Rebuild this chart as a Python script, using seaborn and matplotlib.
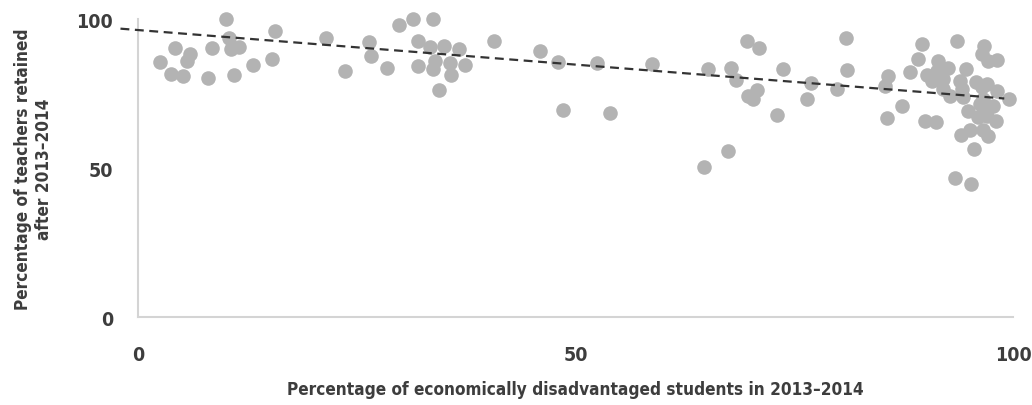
import os

import matplotlib
matplotlib.use("Agg")
import matplotlib.font_manager as fm
import matplotlib.pyplot as plt
import numpy as np
import pandas as pd
import seaborn as sns

# share of economically disadvantaged students (%) per school
disadvantaged = [
    2.5, 3.8, 4.2, 5.1, 5.6, 5.9, 8.0, 8.5, 10.1, 10.4, 10.6, 11.0, 11.5, 13.1, 15.3, 15.7,
    21.5, 23.7, 26.4, 26.6, 28.5, 29.8, 31.4, 32.0, 32.0, 33.4, 33.7, 33.9, 33.7, 35.0,
    35.7, 35.8, 34.4, 36.7, 37.4, 40.7, 45.9, 48.0, 48.6, 52.5, 54.0, 58.7,
    64.7, 67.4, 65.1, 67.8, 68.3, 69.6, 71.0, 69.7, 70.7, 70.3, 73.0, 73.7, 76.5, 76.9,
    79.9, 80.9, 81.0, 85.6, 87.3, 85.7, 85.4, 88.2, 89.1, 89.6, 89.9, 91.2, 90.2, 90.7,
    91.4, 91.3, 92.0, 92.6, 92.0, 92.8, 93.6, 94.6, 93.9, 94.2, 94.3, 95.8, 96.5, 97.0,
    98.2, 99.5, 96.7, 96.5, 97.1, 98.2, 94.9, 96.0, 96.8, 97.7, 98.1, 95.1, 94.1, 96.6,
    97.1, 95.5, 93.4, 95.2, 96.6, 97.0, 96.2,
]
# share of teachers retained (%) per school
retained = [
    85.6, 81.5, 90.3, 80.9, 85.9, 88.3, 80.2, 90.3, 100.0, 93.6, 89.9, 81.2, 90.6, 84.6, 86.6, 96.0,
    93.6, 82.6, 92.3, 87.6, 83.6, 98.0, 100.0, 92.6, 84.2, 90.6, 100.0, 85.9, 83.2, 90.9,
    85.2, 81.2, 76.2, 89.9, 84.6, 92.6, 89.3, 85.6, 69.5, 85.2, 68.5, 84.9,
    50.3, 55.7, 83.2, 83.6, 79.5, 92.6, 90.3, 74.2, 76.2, 73.2, 67.8, 83.2, 73.2, 78.5,
    76.5, 93.6, 82.9, 66.8, 70.8, 80.9, 77.5, 82.2, 86.6, 91.6, 65.8, 65.4, 81.2, 79.2,
    85.9, 82.6, 79.9, 83.6, 76.5, 74.2, 92.6, 83.2, 79.2, 76.5, 73.8, 78.9, 77.2, 78.2,
    75.8, 73.2, 90.9, 88.3, 85.9, 86.2, 69.1, 67.1, 69.1, 70.8, 65.8, 62.8, 61.1, 62.8,
    60.7, 56.4, 46.6, 44.6, 73.2, 67.4, 71.5,
]
# fitted trend line
trend_range = [-2, 99]
trend_intercept = 96.3
trend_slope = -0.232


def condensed_bold():
    # the original uses a condensed bold face; take the closest one installed
    prefs = ["NotoSans-ExtraCondensedSemiBold", "NotoSans-ExtraCondensedBold",
             "NotoSans-CondensedBold", "OpenSans-CondensedBold", "OpenSansCondensed-Bold",
             "LiberationSansNarrow-Bold", "DejaVuSansCondensed-Bold"]
    paths = sorted({f.fname for f in fm.fontManager.ttflist})
    for p in prefs:
        for path in paths:
            if os.path.basename(path).startswith(p):
                return path
    return None


df = pd.DataFrame({"disadvantaged": disadvantaged, "retained": retained})
trend_x = np.array(trend_range, dtype=float)
trend = pd.DataFrame({"x": trend_x, "y": trend_intercept + trend_slope * trend_x})

sns.set_theme(style="white")
plt.rcParams["font.family"] = ["DejaVu Sans"]
text_color = "#3d3d3d"
font_path = condensed_bold()
if font_path:
    label_font = fm.FontProperties(fname=font_path, size=12.3)
    tick_font = fm.FontProperties(fname=font_path, size=14)
else:
    label_font = fm.FontProperties(family="DejaVu Sans", weight="bold", size=11)
    tick_font = fm.FontProperties(family="DejaVu Sans", weight="bold", size=12.5)

fig = plt.figure(figsize=(10.32, 4.06), dpi=100)
ax = fig.add_axes([0.1337, 0.2167, 0.8479, 0.734])

sns.scatterplot(data=df, x="disadvantaged", y="retained", ax=ax, s=110, color="#b3b3b3",
                linewidth=0, alpha=1, clip_on=False, zorder=2)
sns.lineplot(data=trend, x="x", y="y", ax=ax, color="#333333", linewidth=1.6,
             linestyle=(0, (4, 2.5)), clip_on=False, zorder=3)

ax.set_xlim(0, 100)
ax.set_ylim(0, 100)
ax.set_xticks([0, 50, 100])
ax.set_yticks([0, 50, 100])
ax.tick_params(axis="both", length=0, colors=text_color)
ax.tick_params(axis="x", pad=20)
ax.tick_params(axis="y", pad=18)
for lab in ax.get_xticklabels() + ax.get_yticklabels():
    lab.set_fontproperties(tick_font)

for side in ["top", "right"]:
    ax.spines[side].set_visible(False)
for side in ["left", "bottom"]:
    ax.spines[side].set_color("#d4d4d4")
    ax.spines[side].set_linewidth(1.5)

ax.set_xlabel("Percentage of economically disadvantaged students in 2013\u20132014",
              fontproperties=label_font, color=text_color, labelpad=12)
ax.set_ylabel("Percentage of teachers retained\nafter 2013\u20132014",
              fontproperties=label_font, color=text_color, labelpad=17, linespacing=1.2)

fig.savefig("out.png", dpi=100)
